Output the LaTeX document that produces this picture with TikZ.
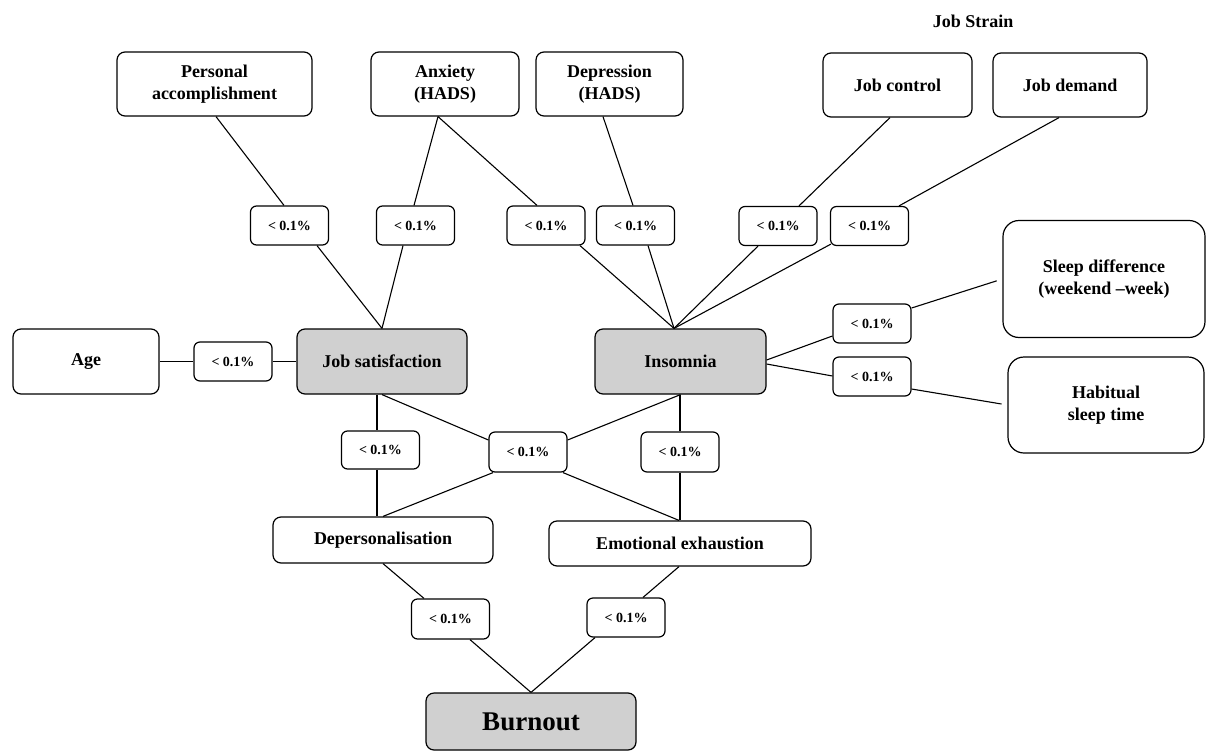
\documentclass[tikz,border=0pt]{standalone}
\usepackage{fontspec}
\setmainfont{Liberation Serif}
\definecolor{boxgray}{HTML}{D0D0D0}
\begin{document}
\begin{tikzpicture}[x=1pt,y=-1pt,
  box/.style={draw, line width=1.2pt, rounded corners=8pt, inner sep=0pt, align=center,
    font=\fontsize{18}{22}\selectfont\bfseries, fill=white},
  gbox/.style={box, fill=boxgray},
  lab/.style={draw, line width=1.2pt, rounded corners=6pt, inner sep=0pt, fill=white,
    minimum width=78pt, minimum height=39pt, font=\fontsize{14}{16}\selectfont\bfseries},
  conn/.style={line width=1.1pt}]
\useasboundingbox (0,0) rectangle (1206,752);

% top row
\node[box, minimum width=195pt, minimum height=64pt] (pa) at (214.5,84) {Personal\\accomplishment};
\node[box, minimum width=148pt, minimum height=64pt] (anx) at (445,84) {Anxiety\\(HADS)};
\node[box, minimum width=147pt, minimum height=64pt] (dep) at (609.5,84) {Depression\\(HADS)};
\node[box, minimum width=149pt, minimum height=64pt] (jc) at (897.5,85) {Job control};
\node[box, minimum width=154pt, minimum height=64pt] (jd) at (1070,85) {Job demand};
\node[font=\fontsize{18}{20}\selectfont\bfseries] (js0) at (973,21) {Job Strain};

% top labels
\node[lab] (L1) at (289.5,225.5) {< 0.1\%};
\node[lab] (L2) at (415.5,225.5) {< 0.1\%};
\node[lab] (L3) at (546,225.5) {< 0.1\%};
\node[lab] (L4) at (635.5,225.5) {< 0.1\%};
\node[lab] (L5) at (778,226) {< 0.1\%};
\node[lab] (L6) at (869.5,226) {< 0.1\%};

% right side
\node[box, rounded corners=16pt, minimum width=202pt, minimum height=117pt] (sd) at (1104,279) {Sleep difference\\(weekend –week)};
\node[box, rounded corners=16pt, minimum width=196pt, minimum height=96pt] (ht) at (1106,405) {Habitual\\sleep time};
\node[lab] (L7) at (872,323.5) {< 0.1\%};
\node[lab] (L8) at (872,376.5) {< 0.1\%};

% middle row
\node[box, minimum width=146pt, minimum height=65pt] (age) at (86,361.5) {Age};
\node[lab] (La) at (233,361.5) {< 0.1\%};
\node[gbox, minimum width=170pt, minimum height=65pt] (js) at (382,361.5) {Job satisfaction};
\node[gbox, minimum width=171pt, minimum height=65pt] (ins) at (680.5,361.5) {Insomnia};

\node[lab, minimum height=38pt] (L9) at (380.5,450) {< 0.1\%};
\node[lab, minimum height=40pt] (L10) at (528,452) {< 0.1\%};
\node[lab, minimum height=40pt] (L11) at (680,452) {< 0.1\%};

% lower row
\node[box, minimum width=220pt, minimum height=46pt] (dp) at (383,540) {Depersonalisation};
\node[box, minimum width=262pt, minimum height=45pt] (ee) at (680,543.5) {Emotional exhaustion};
\node[lab, minimum height=40pt] (L12) at (450.5,619) {< 0.1\%};
\node[lab] (L13) at (626,617.5) {< 0.1\%};
\node[gbox, minimum width=210pt, minimum height=57pt, font=\fontsize{27}{30}\selectfont\bfseries] (bo) at (531,721.5) {Burnout};

% connectors
\draw[conn] ([xshift=1.5pt]pa.south) -- ([xshift=-5.5pt]L1.north);
\draw[conn] ([xshift=27.5pt]L1.south) -- (js.north);
\draw[conn] ([xshift=-7pt]anx.south) -- ([xshift=-1.5pt]L2.north);
\draw[conn] ([xshift=-12.5pt]L2.south) -- (js.north);
\draw[conn] ([xshift=-7pt]anx.south) -- ([xshift=-9pt]L3.north);
\draw[conn] ([xshift=34pt]L3.south) -- ([xshift=-6.5pt]ins.north);
\draw[conn] ([xshift=-6.5pt]dep.south) -- ([xshift=-2.5pt]L4.north);
\draw[conn] ([xshift=12.5pt]L4.south) -- ([xshift=-6.5pt]ins.north);
\draw[conn] ([xshift=-7.5pt]jc.south) -- ([xshift=21pt]L5.north);
\draw[conn] ([xshift=-20pt]L5.south) -- ([xshift=-6.5pt]ins.north);
\draw[conn] ([xshift=-11pt]jd.south) -- ([xshift=29.5pt]L6.north);
\draw[conn] ([shift={(1,-2)}]L6.south west) -- ([xshift=-6.5pt]ins.north);

\draw[conn] ([yshift=1.5pt]ins.east) -- ([yshift=-12.5pt]L7.west);
\draw[conn, shorten >=6pt] ([yshift=15.5pt]L7.east) -- (sd.west);
\draw[conn] ([yshift=-2.5pt]ins.east) -- ([yshift=0.5pt]L8.west);
\draw[conn, shorten >=6pt] ([yshift=-12.5pt]L8.east) -- (ht.west);

\draw[conn] (age.east) -- (La.west);
\draw[conn] (La.east) -- (js.west);

\draw[conn] ([xshift=-5pt]js.south) -- ([xshift=-3.5pt]L9.north);
\draw[conn] ([xshift=-3.5pt]L9.south) -- ([xshift=-6pt]dp.north);
\draw[conn] (js.south) -- ([yshift=12pt]L10.west);
\draw[conn] ([xshift=-35pt]L10.south) -- (dp.north);
\draw[conn] (ins.south) -- ([yshift=12pt]L10.east);
\draw[conn] ([xshift=35pt]L10.south) -- ([xshift=-1pt]ee.north);
\draw[conn] ([xshift=-0.5pt]ins.south) -- (L11.north);
\draw[conn] (L11.south) -- (ee.north);

\draw[conn] (dp.south) -- ([xshift=-26.5pt]L12.north);
\draw[conn] ([xshift=19.5pt]L12.south) -- (bo.north);
\draw[conn] ([xshift=-1pt]ee.south) -- ([xshift=17pt]L13.north);
\draw[conn] ([xshift=-31pt]L13.south) -- (bo.north);
\end{tikzpicture}
\end{document}
